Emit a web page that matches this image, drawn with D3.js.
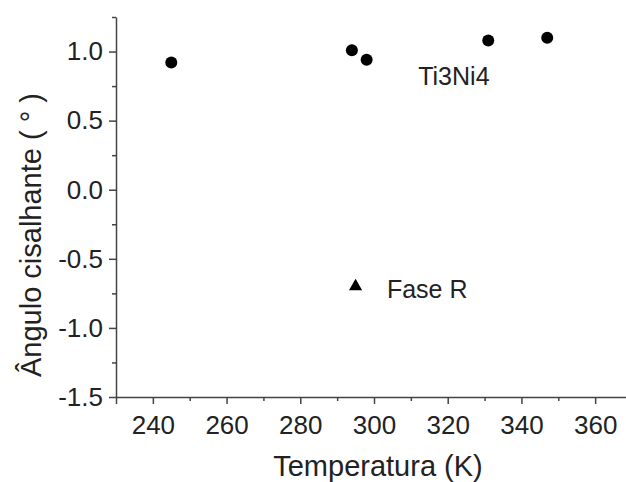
<!DOCTYPE html>
<html>
<head>
<meta charset="utf-8">
<script src="https://cdn.jsdelivr.net/npm/d3@7"></script>
<style>
  html, body { margin: 0; padding: 0; background: #fff; }
  svg { display: block; font-family: Arial, "Liberation Sans", sans-serif; }
</style>
</head>
<body>
<svg id="chart"></svg>
<script>
// Ti3Ni4 points (circles)
const ti3ni4Temp = [245, 294, 298, 331, 347];
const ti3ni4Angle = [0.92, 1.01, 0.94, 1.08, 1.10];

// Fase R point (triangle)
const faseRTemp = [295];
const faseRAngle = [-0.70];

const xTicks = [240, 260, 280, 300, 320, 340, 360];
const xMinor = [250, 270, 290, 310, 330, 350, 370];
const yTicks = [-1.5, -1.0, -0.5, 0.0, 0.5, 1.0];
const yMinor = [-1.25, -0.75, -0.25, 0.25, 0.75, 1.25];

const width = 626, height = 482;
const marginLeft = 116, marginTop = 17, marginBottom = 85;

const x = d3.scaleLinear([230, 370], [marginLeft, 632]);
const y = d3.scaleLinear([-1.5, 1.25], [height - marginBottom, marginTop]);

const svg = d3.select('#chart')
  .attr('width', width)
  .attr('height', height)
  .attr('viewBox', [0, 0, width, height]);

const axisColor = '#444';
const textColor = '#222';

// X axis
svg.append('g')
  .attr('transform', `translate(0,${height - marginBottom})`)
  .call(d3.axisBottom(x).tickValues(xTicks).tickSize(7).tickPadding(12).tickFormat(d3.format('d')))
  .call(g => g.select('.domain').attr('stroke', axisColor).attr('stroke-width', 1.5))
  .call(g => g.selectAll('.tick line').attr('stroke', axisColor).attr('stroke-width', 1.5))
  .call(g => g.selectAll('.tick text').attr('fill', textColor).attr('font-size', 26));

svg.append('g')
  .attr('transform', `translate(0,${height - marginBottom})`)
  .call(d3.axisBottom(x).tickValues(xMinor).tickSize(4).tickFormat(''))
  .call(g => g.select('.domain').remove())
  .call(g => g.selectAll('.tick line').attr('stroke', axisColor).attr('stroke-width', 1.5));

// Y axis
svg.append('g')
  .attr('transform', `translate(${marginLeft},0)`)
  .call(d3.axisLeft(y).tickValues(yTicks).tickSize(7).tickPadding(6).tickSizeOuter(0).tickFormat(d3.format('.1f')))
  .call(g => g.select('.domain').attr('stroke', axisColor).attr('stroke-width', 1.5))
  .call(g => g.selectAll('.tick line').attr('stroke', axisColor).attr('stroke-width', 1.5))
  .call(g => g.selectAll('.tick text').attr('fill', textColor).attr('font-size', 26)
    .text(d => d3.format('.1f')(d).replace('−', '-')));

svg.append('g')
  .attr('transform', `translate(${marginLeft},0)`)
  .call(d3.axisLeft(y).tickValues(yMinor).tickSize(4).tickFormat(''))
  .call(g => g.select('.domain').remove())
  .call(g => g.selectAll('.tick line').attr('stroke', axisColor).attr('stroke-width', 1.5));

// Axis titles
svg.append('text')
  .attr('x', 378)
  .attr('y', 476)
  .attr('text-anchor', 'middle')
  .attr('font-size', 29)
  .attr('fill', textColor)
  .text('Temperatura (K)');

svg.append('text')
  .attr('transform', 'translate(41,235) rotate(-90)')
  .attr('text-anchor', 'middle')
  .attr('font-size', 29)
  .attr('fill', textColor)
  .text('Ângulo cisalhante (\u00a0°\u00a0)');

// Ti3Ni4 circles
svg.append('g')
  .selectAll('circle')
  .data(d3.range(ti3ni4Temp.length))
  .join('circle')
  .attr('cx', i => x(ti3ni4Temp[i]))
  .attr('cy', i => y(ti3ni4Angle[i]))
  .attr('r', 6)
  .attr('fill', '#000');

// Fase R triangle
svg.append('g')
  .selectAll('path')
  .data(d3.range(faseRTemp.length))
  .join('path')
  .attr('transform', i => `translate(${x(faseRTemp[i])},${y(faseRAngle[i])})`)
  .attr('d', d3.symbol(d3.symbolTriangle, 75))
  .attr('fill', '#000');

// Labels
svg.append('text')
  .attr('x', x(312))
  .attr('y', y(0.76))
  .attr('font-size', 25)
  .attr('fill', textColor)
  .text('Ti3Ni4');

svg.append('text')
  .attr('x', x(303.5))
  .attr('y', y(-0.78))
  .attr('font-size', 25)
  .attr('fill', textColor)
  .text('Fase R');
</script>
</body>
</html>
